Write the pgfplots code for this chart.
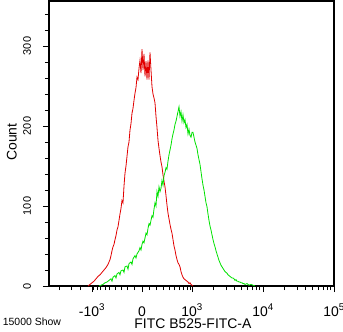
\documentclass[border=0pt]{standalone}
\usepackage{fontspec}
\setmainfont{Liberation Sans}
\usepackage{pgfplots}
\pgfplotsset{compat=1.18}
\definecolor{cred}{RGB}{225,0,0}
\definecolor{cgreen}{RGB}{0,225,0}
\begin{document}
\begin{tikzpicture}
\begin{axis}[
  at={(0,0)}, anchor=south west,
  scale only axis, width=285bp, height=285bp,
  xmin=0, xmax=285, ymin=0, ymax=356.25,
  axis line style={line width=1.1bp, black},
  xtick pos=bottom, ytick pos=left,
  tick align=outside,
  major tick length=6bp, minor tick length=4bp,
  every tick/.style={black, line width=0.8bp},
  xtick={43,93,143,214,285},
  xticklabels={-10\textsuperscript{3},0,10\textsuperscript{3},10\textsuperscript{4},10\textsuperscript{5}},
  minor xtick={10,22,31,44.8,48.1,51.8,56,60.8,66.1,72.1,78.5,85.6,100.4,107.5,113.9,119.9,125.2,130,134.2,137.9,141.2,164.4,176.9,185.7,192.6,198.2,203,207.1,210.8,235.4,247.9,256.7,263.6,269.2,274,278.1,281.8},
  ytick={0,100,200,300},
  yticklabels={0,100,200,300},
  minor ytick={20,40,60,80,120,140,160,180,220,240,260,280,320,340},
  xticklabel style={font=\fontsize{14}{14}\selectfont, inner sep=0pt, anchor=base, yshift=-24bp},
  yticklabel style={font=\fontsize{11}{11}\selectfont, inner sep=0pt, xshift=-12bp, rotate=90, anchor=base},
  xlabel={FITC B525-FITC-A},
  ylabel={Count},
  xlabel style={font=\fontsize{14}{14}\selectfont, inner sep=0pt, at={(axis description cs:0.505,-0.132)}, anchor=center},
  ylabel style={font=\fontsize{14}{14}\selectfont, inner sep=0pt, at={(axis description cs:-0.13,0.505)}, anchor=center},
  clip=false,
]
\addplot[cred, line width=0.8bp, sharp plot] coordinates {
(39,0)(41,2)(43,4)(45,6)(47,9)(49,12)(51,14)(53,17)(55,20)(57,23)(59,27)(61,33)(62,38)(63,44)(64,49)(65,52)(66,58)(67,63)(68,70)(69,74)(70,82)(71,90)(72,97)(73,107)(74,104)(75,125)(76,141)(77,150)(78,162)(79,174)(80,180)(81,195)(82,203)(83,216)(84,222)(85,232)(86,241)(87,248)(88,261)(89,258)(90,272)(91,282)(92,266)(93,296)(94,270)(95,290)(96,262)(97,281)(98,258)(99,282)(100,258)(101,292)(102,270)(103,249)(104,240)(105,235)(106,229)(107,212)(108,198)(109,182)(110,172)(111,163)(112,155)(113,149)(114,139)(115,131)(116,124)(117,113)(118,101)(119,91)(120,84)(121,77)(122,71)(123,66)(124,58)(125,50)(126,45)(127,38)(128,33)(129,29)(130,27)(131,24)(132,18)(133,14)(134,11)(135,9)(136,8)(137,7)(138,6)(139,5)(140,3)(141,4)(142,2)(143,1)(144,0)
};
\addplot[cgreen, line width=0.8bp, sharp plot] coordinates {
(50,0)(52,1)(54,2)(56,4)(58,5)(60,7)(62,9)(63,6)(64,11)(66,13)(67,10)(68,15)(70,17)(71,14)(72,19)(74,20)(75,17)(76,24)(78,25)(79,21)(80,28)(82,30)(83,27)(84,34)(86,38)(87,35)(88,40)(90,44)(91,48)(92,45)(93,52)(94,56)(95,54)(96,60)(97,66)(98,64)(99,72)(100,78)(101,76)(102,82)(103,88)(104,86)(105,96)(106,104)(107,100)(108,118)(109,112)(110,124)(111,118)(112,122)(113,132)(114,126)(115,138)(116,142)(117,148)(118,146)(119,156)(120,164)(121,170)(122,176)(123,184)(124,190)(125,195)(126,202)(127,206)(128,212)(129,218)(130,224)(131,212)(132,218)(133,206)(134,214)(135,204)(136,208)(137,198)(138,202)(139,190)(140,196)(141,188)(142,186)(143,192)(144,192)(145,186)(146,180)(147,176)(148,172)(149,164)(150,158)(151,152)(152,143)(153,134)(154,126)(155,120)(156,112)(157,104)(158,99)(159,90)(160,82)(161,75)(162,70)(163,64)(164,58)(165,53)(166,49)(167,44)(168,40)(169,36)(170,32)(171,29)(172,26)(173,24)(174,22)(175,20)(176,18)(177,17)(178,16)(179,14)(180,13)(181,12)(182,11)(183,10)(184,10)(185,9)(186,7)(187,8)(188,6)(189,6)(190,5)(191,5)(192,4)(193,4)(194,3)(195,3)(196,2)(198,3)(199,2)(200,1)(202,2)(204,1)(206,0)
};
\node[font=\fontsize{10.5}{10.5}\selectfont, inner sep=0pt, anchor=center] at (axis description cs:-0.06,-0.126) {15000 Show};
\end{axis}
\pgfresetboundingbox
\path[use as bounding box] (-49bp,-46bp) rectangle (294bp,286bp);
\end{tikzpicture}
\end{document}
